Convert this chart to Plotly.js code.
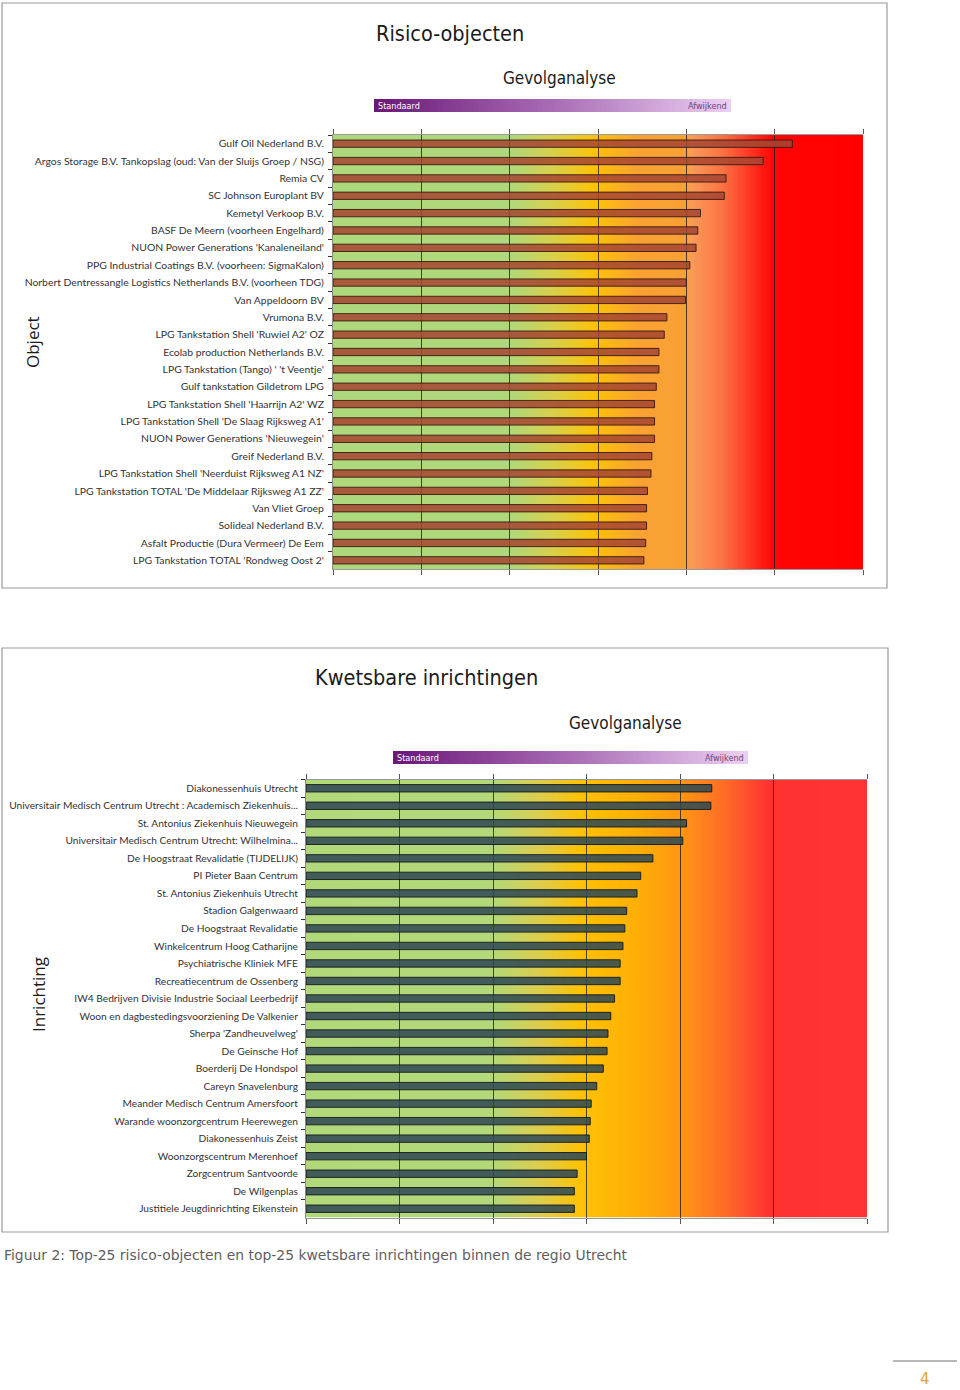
<!DOCTYPE html>
<html>
<head>
<meta charset="utf-8">
<script src="https://cdn.plot.ly/plotly-3.0.1.min.js"></script>
<style>
  html, body { margin: 0; padding: 0; background: #ffffff; }
  #chart { width: 960px; height: 1390px; }
</style>
</head>
<body>
<div id="chart"></div>
<script>
// ---------- DATA ----------
const objectLabels = [
  "Gulf Oil Nederland B.V.",
  "Argos Storage B.V. Tankopslag (oud: Van der Sluijs Groep / NSG)",
  "Remia CV",
  "SC Johnson Europlant BV",
  "Kemetyl Verkoop B.V.",
  "BASF De Meern (voorheen Engelhard)",
  "NUON Power Generations 'Kanaleneiland'",
  "PPG Industrial Coatings B.V. (voorheen: SigmaKalon)",
  "Norbert Dentressangle Logistics Netherlands B.V. (voorheen TDG)",
  "Van Appeldoorn BV",
  "Vrumona B.V.",
  "LPG Tankstation Shell 'Ruwiel A2' OZ",
  "Ecolab production Netherlands B.V.",
  "LPG Tankstation (Tango) ' 't Veentje'",
  "Gulf tankstation Gildetrom LPG",
  "LPG Tankstation Shell 'Haarrijn A2' WZ",
  "LPG Tankstation Shell 'De Slaag Rijksweg A1'",
  "NUON Power Generations 'Nieuwegein'",
  "Greif Nederland B.V.",
  "LPG Tankstation Shell 'Neerduist Rijksweg A1 NZ'",
  "LPG Tankstation TOTAL 'De Middelaar Rijksweg A1 ZZ'",
  "Van Vliet Groep",
  "Solideal Nederland B.V.",
  "Asfalt Productie (Dura Vermeer) De Eem",
  "LPG Tankstation TOTAL 'Rondweg Oost 2'"
];
const objectValues = [
  5.20, 4.87, 4.45, 4.43, 4.16, 4.13, 4.11, 4.04, 4.00, 3.99,
  3.78, 3.75, 3.69, 3.69, 3.66, 3.64, 3.64, 3.64, 3.61, 3.60,
  3.56, 3.55, 3.55, 3.54, 3.52
];

const inrichtingLabels = [
  "Diakonessenhuis Utrecht",
  "Universitair Medisch Centrum Utrecht : Academisch Ziekenhuis...",
  "St. Antonius Ziekenhuis Nieuwegein",
  "Universitair Medisch Centrum Utrecht: Wilhelmina...",
  "De Hoogstraat Revalidatie (TIJDELIJK)",
  "PI Pieter Baan Centrum",
  "St. Antonius Ziekenhuis Utrecht",
  "Stadion Galgenwaard",
  "De Hoogstraat Revalidatie",
  "Winkelcentrum Hoog Catharijne",
  "Psychiatrische Kliniek MFE",
  "Recreatiecentrum de Ossenberg",
  "IW4 Bedrijven Divisie Industrie Sociaal Leerbedrijf",
  "Woon en dagbestedingsvoorziening De Valkenier",
  "Sherpa 'Zandheuvelweg'",
  "De Geinsche Hof",
  "Boerderij De Hondspol",
  "Careyn Snavelenburg",
  "Meander Medisch Centrum Amersfoort",
  "Warande woonzorgcentrum Heerewegen",
  "Diakonessenhuis Zeist",
  "Woonzorgscentrum Merenhoef",
  "Zorgcentrum Santvoorde",
  "De Wilgenplas",
  "Justitiele Jeugdinrichting Eikenstein"
];
const inrichtingValues = [
  4.34, 4.33, 4.07, 4.03, 3.71, 3.58, 3.54, 3.43, 3.41, 3.39,
  3.36, 3.36, 3.30, 3.26, 3.23, 3.22, 3.18, 3.11, 3.05, 3.04,
  3.03, 3.00, 2.90, 2.87, 2.87
];

// Background gradient (risk scale) colour stops, in axis units 0..6
const scaleMax = 6;
const objectBgStops = [
  [0.00, "#aed87c"], [2.00, "#afd87b"], [2.50, "#d8d04a"], [2.95, "#fcc30a"],
  [3.05, "#fdbc10"], [3.45, "#f9a232"], [4.00, "#f8a035"], [4.05, "#f99c58"],
  [4.40, "#fb7443"], [4.75, "#ff3020"], [4.98, "#ff0505"], [6.00, "#ff0000"]
];
const inrichtingBgStops = [
  [0.00, "#b1d97a"], [2.00, "#b3d879"], [2.50, "#dccd4c"], [2.95, "#ffc103"],
  [3.50, "#ffb005"], [4.00, "#ff9712"], [4.50, "#ff6a28"], [4.95, "#ff3232"],
  [6.00, "#ff3333"]
];
const purpleStops = [[0, "#6a1877"], [0.5, "#a86cb4"], [1, "#ecd0f4"]];

// ---------- HELPERS ----------
const W = 960, H = 1390;
const px = v => v / W;
const py = v => 1 - v / H;

function toScale(stops) {
  return stops.map(s => [s[0] / scaleMax, s[1]]);
}
const nCells = 240;
const cellCenters = [];
for (let i = 0; i < nCells; i++) cellCenters.push((i + 0.5) * scaleMax / nCells);
const purpleCenters = [];
for (let i = 0; i < 100; i++) purpleCenters.push((i + 0.5) / 100);

const labelFont1 = { family: "Lato, 'Open Sans', sans-serif", size: 10.4, color: "#333333" };
const labelFont2 = { family: "Lato, 'Open Sans', sans-serif", size: 10.2, color: "#333333" };
const titleFamily = "'Liberation Sans Narrow', 'DejaVu Sans Condensed', Roboto, sans-serif";

// ---------- TRACES ----------
const traces = [
  { type: "heatmap", x: cellCenters, y: [0.5], z: [cellCenters], zmin: 0, zmax: scaleMax,
    colorscale: toScale(objectBgStops), showscale: false, hoverinfo: "skip", xaxis: "x", yaxis: "y" },
  { type: "heatmap", x: cellCenters, y: [0.5], z: [cellCenters], zmin: 0, zmax: scaleMax,
    colorscale: toScale(inrichtingBgStops), showscale: false, hoverinfo: "skip", xaxis: "x2", yaxis: "y2" },
  { type: "bar", orientation: "h", x: objectValues, y: objectLabels, width: 0.42,
    marker: { color: "rgba(165,70,50,0.86)", line: { color: "rgba(50,20,10,0.85)", width: 1 } },
    hoverinfo: "x+y", xaxis: "x3", yaxis: "y3" },
  { type: "bar", orientation: "h", x: inrichtingValues, y: inrichtingLabels, width: 0.42,
    marker: { color: "rgba(48,74,84,0.87)", line: { color: "rgba(20,25,25,0.9)", width: 1 } },
    hoverinfo: "x+y", xaxis: "x4", yaxis: "y4" },
  { type: "heatmap", x: purpleCenters, y: [0.5], z: [purpleCenters], zmin: 0, zmax: 1,
    colorscale: purpleStops, showscale: false, hoverinfo: "skip", xaxis: "x5", yaxis: "y5" },
  { type: "heatmap", x: purpleCenters, y: [0.5], z: [purpleCenters], zmin: 0, zmax: 1,
    colorscale: purpleStops, showscale: false, hoverinfo: "skip", xaxis: "x6", yaxis: "y6" }
];

// ---------- LAYOUT ----------
const dom1x = [px(333), px(863)], dom1y = [py(569), py(135)];
const dom2x = [px(306), px(867)], dom2y = [py(1217.5), py(779.5)];

const hiddenX = d => ({ domain: d, range: [0, scaleMax], visible: false, fixedrange: true });
const hiddenY = d => ({ domain: d, range: [0, 1], visible: false, fixedrange: true });
const hidden01X = d => ({ domain: d, range: [0, 1], visible: false, fixedrange: true });

const barX = (d, anchor) => ({
  domain: d, anchor: anchor, range: [0, scaleMax], side: "top", dtick: 1, tick0: 0,
  showticklabels: false, ticks: "outside", ticklen: 5, tickcolor: "#555", tickwidth: 1,
  showgrid: true, gridcolor: "rgba(20,20,20,0.75)", gridwidth: 1,
  showline: true, linecolor: "#999", linewidth: 1, mirror: "ticks", zeroline: false, fixedrange: true
});
const barY = (d, anchor, cats, standoff, font) => ({
  domain: d, anchor: anchor, type: "category", categoryorder: "array", categoryarray: cats,
  autorange: "reversed", ticks: "outside", tickson: "boundaries", ticklen: 4, tickcolor: "#333",
  ticklabelstandoff: standoff,
  tickfont: font, showline: true, linecolor: "#888", linewidth: 1, showgrid: false,
  automargin: false, fixedrange: true
});

const annotations = [
  { text: "Risico-objecten", x: px(449.5), y: py(33), font: { family: titleFamily, size: 21.5, color: "#1a1a1a" } },
  { text: "Gevolganalyse", x: px(559), y: py(78), font: { family: titleFamily, size: 17, color: "#1a1a1a" } },
  { text: "Kwetsbare inrichtingen", x: px(426.5), y: py(678), font: { family: titleFamily, size: 21.5, color: "#1a1a1a" } },
  { text: "Gevolganalyse", x: px(625), y: py(723), font: { family: titleFamily, size: 17, color: "#1a1a1a" } },
  { text: "Standaard", x: px(376), y: py(105.5), xanchor: "left", font: { family: titleFamily, size: 9, color: "#ffffff" } },
  { text: "Afwijkend", x: px(729), y: py(105.5), xanchor: "right", font: { family: titleFamily, size: 9, color: "#6d4577" } },
  { text: "Standaard", x: px(395), y: py(757.5), xanchor: "left", font: { family: titleFamily, size: 9, color: "#ffffff" } },
  { text: "Afwijkend", x: px(746), y: py(757.5), xanchor: "right", font: { family: titleFamily, size: 9, color: "#6d4577" } },
  { text: "Object", x: px(33), y: py(342), textangle: -90, font: { family: "'Open Sans', sans-serif", size: 17, color: "#1a1a1a" } },
  { text: "Inrichting", x: px(38), y: py(995), textangle: -90, font: { family: "'Open Sans', sans-serif", size: 17, color: "#1a1a1a" } },
  { text: "Figuur 2: Top-25 risico-objecten en top-25 kwetsbare inrichtingen binnen de regio Utrecht",
    x: px(2), y: py(1255), xanchor: "left", font: { family: "'DejaVu Sans', Verdana, sans-serif", size: 13.9, color: "#5e5e5e" } },
  { text: "4", x: px(925), y: py(1379), font: { family: "'DejaVu Sans', sans-serif", size: 15, color: "#e3a23a" } }
].map(a => Object.assign({ xref: "paper", yref: "paper", showarrow: false, xanchor: "center", yanchor: "middle" }, a));

const shapes = [
  { type: "rect", xref: "paper", yref: "paper", x0: px(2), x1: px(887), y0: py(3), y1: py(588),
    line: { color: "#9a9a9a", width: 1.2 }, fillcolor: "rgba(0,0,0,0)" },
  { type: "rect", xref: "paper", yref: "paper", x0: px(2), x1: px(888), y0: py(648), y1: py(1232),
    line: { color: "#9a9a9a", width: 1.2 }, fillcolor: "rgba(0,0,0,0)" },
  { type: "line", xref: "paper", yref: "paper", x0: px(893), x1: px(957), y0: py(1361), y1: py(1361),
    line: { color: "#a0a0a0", width: 1.5 } }
];

const layout = {
  width: W, height: H,
  margin: { l: 0, r: 0, t: 0, b: 0 },
  paper_bgcolor: "#ffffff", plot_bgcolor: "rgba(0,0,0,0)",
  showlegend: false, bargap: 0.5,
  xaxis: hiddenX(dom1x), yaxis: hiddenY(dom1y),
  xaxis2: hiddenX(dom2x), yaxis2: hiddenY(dom2y),
  xaxis3: barX(dom1x, "y3"), yaxis3: barY(dom1y, "x3", objectLabels, 6, labelFont1),
  xaxis4: barX(dom2x, "y4"), yaxis4: barY(dom2y, "x4", inrichtingLabels, 5, labelFont2),
  xaxis5: hidden01X([px(374), px(731)]), yaxis5: hiddenY([py(112), py(99)]),
  xaxis6: hidden01X([px(393), px(748)]), yaxis6: hiddenY([py(764), py(751)]),
  annotations: annotations, shapes: shapes
};
layout.xaxis5.anchor = "y5"; layout.yaxis5.anchor = "x5";
layout.xaxis6.anchor = "y6"; layout.yaxis6.anchor = "x6";
layout.xaxis2.anchor = "y2"; layout.yaxis2.anchor = "x2";

Plotly.newPlot("chart", traces, layout, { displayModeBar: false, staticPlot: true });
</script>
</body>
</html>
